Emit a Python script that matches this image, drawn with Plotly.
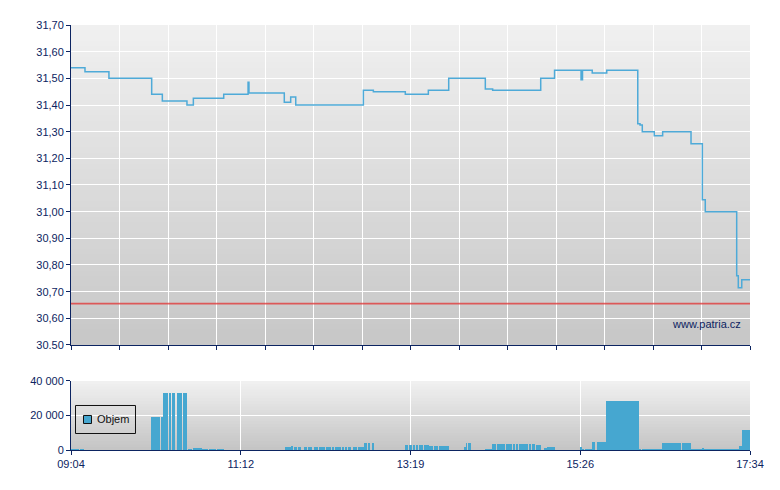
import plotly.graph_objects as go
from datetime import datetime

DAY = "2010-01-04"

# ---- price (step line) ----
price_times = ["09:04:00", "09:14:30", "09:32:30", "10:04:36", "10:12:36", "10:31:06",
               "10:35:54", "10:58:42", "11:17:00", "11:17:40", "11:44:12", "11:49:00",
               "11:52:48", "12:43:36", "12:51:06", "13:15:06", "13:32:24", "13:47:42",
               "14:15:12", "14:20:42", "14:56:48", "15:07:12", "15:27:06", "15:28:12",
               "15:35:30", "15:46:24", "16:09:42", "16:11:24", "16:13:06", "16:22:06",
               "16:28:24", "16:49:42", "16:58:12", "17:00:24", "17:24:00", "17:25:12",
               "17:27:48", "17:34:00"]
price_values = [31.54, 31.525, 31.50, 31.44, 31.415, 31.40,
                31.425, 31.44, 31.485, 31.445, 31.41, 31.43,
                31.40, 31.455, 31.45, 31.44, 31.455, 31.50,
                31.46, 31.455, 31.50, 31.53, 31.495, 31.53,
                31.52, 31.53, 31.33, 31.325, 31.30, 31.285,
                31.30, 31.255, 31.045, 31.00, 30.76, 30.715,
                30.745, 30.745]
reference_price = 30.655

# ---- volume ----
vol_start = ["09:04:00", "09:11:00", "10:04:06", "10:11:36", "10:13:18", "10:17:48", "10:19:36",
             "10:23:36", "10:28:06", "10:32:00", "10:35:36", "10:42:36", "10:48:00", "10:54:00",
             "11:44:42", "11:49:48", "11:51:42", "11:54:30", "11:58:48", "12:02:00", "12:06:18",
             "12:10:00", "12:15:30", "12:19:48", "12:22:00", "12:24:18", "12:25:48", "12:27:30",
             "12:29:36", "12:32:00", "12:36:18", "12:37:48", "12:39:36", "12:44:00", "12:47:00",
             "12:49:54", "13:14:36", "13:18:06", "13:19:06", "13:20:54", "13:22:54", "13:25:24",
             "13:29:06", "13:32:42", "13:36:36", "13:40:12", "13:59:12", "14:00:42", "14:02:12",
             "14:03:30", "14:15:00", "14:20:12", "14:24:00", "14:25:30", "14:30:42", "14:36:30",
             "14:38:00", "14:40:18", "14:46:18", "14:48:12", "14:50:00", "14:53:18", "15:00:00",
             "15:01:30", "15:26:48", "15:27:48", "15:30:06", "15:35:18", "15:39:06", "15:45:48",
             "16:10:36", "16:12:48", "16:27:48", "16:42:48", "16:49:30", "16:58:30", "16:59:18",
             "17:24:06", "17:25:36", "17:27:48"]
vol_end = ["09:10:00", "09:14:00", "10:10:48", "10:12:54", "10:17:06", "10:18:54", "10:21:54",
           "10:27:36", "10:31:06", "10:35:00", "10:42:12", "10:47:00", "10:53:00", "10:58:42",
           "11:49:18", "11:50:30", "11:53:42", "11:56:48", "12:01:18", "12:05:00", "12:09:18",
           "12:14:48", "12:19:18", "12:21:30", "12:23:36", "12:25:18", "12:27:00", "12:29:00",
           "12:31:30", "12:34:00", "12:37:18", "12:38:48", "12:44:00", "12:46:18", "12:48:48",
           "12:51:36", "13:17:06", "13:18:48", "13:20:06", "13:22:24", "13:24:24", "13:28:24",
           "13:32:42", "13:35:54", "13:39:36", "13:47:54", "14:00:42", "14:01:24", "14:02:54",
           "14:04:12", "14:20:00", "14:23:12", "14:25:00", "14:30:00", "14:35:12", "14:37:18",
           "14:39:30", "14:45:30", "14:47:30", "14:49:18", "14:52:30", "14:57:00", "15:01:18",
           "15:07:30", "15:27:48", "15:29:18", "15:35:06", "15:37:36", "15:45:48", "16:10:36",
           "16:12:06", "16:27:48", "16:42:06", "16:49:30", "16:58:30", "16:59:18", "17:24:06",
           "17:25:36", "17:27:48", "17:33:48"]
vol_values = [600, 600, 19000, 19000, 33000, 33000, 33000,
              33000, 33000, 300, 1400, 500, 500, 500,
              1700, 2500, 1700, 1700, 1700, 1700, 1700,
              1700, 1700, 1700, 1700, 1700, 1700, 1700,
              1700, 1700, 1700, 1700, 1700, 4000, 4000,
              4000, 2900, 2900, 2900, 2900, 2900, 2900,
              2900, 2300, 2300, 2300, 1700, 4000, 4000,
              4000, 500, 3400, 3400, 3400, 3400, 3400,
              3400, 3400, 3400, 3400, 3400, 3100, 1300,
              1900, 1900, 700, 700, 4800, 4800, 28500,
              700, 700, 4300, 4300, 200, 1200, 700,
              200, 2500, 11700]
volume_name = "Objem"

session = ["09:04:00", "17:34:00"]
price_ticks = [30.5, 30.6, 30.7, 30.8, 30.9, 31.0, 31.1, 31.2, 31.3, 31.4, 31.5, 31.6, 31.7]
price_tick_labels = ["30.50", "30,60", "30,70", "30,80", "30,90", "31,00", "31,10",
                     "31,20", "31,30", "31,40", "31,50", "31,60", "31,70"]
vol_ticks = [0, 20000, 40000]
vol_tick_labels = ["0", "20 000", "40 000"]
time_tick_labels = ["09:04", "11:12", "13:19", "15:26", "17:34"]


def dt(s):
    return datetime.strptime(DAY + " " + s, "%Y-%m-%d %H:%M:%S")


NAVY = "#0c2461"
BAR = "#46a7d0"
FONT = "Liberation Sans, Arial, sans-serif"
t0, t1 = dt(session[0]), dt(session[1])
span = t1 - t0
main_ticks = [t0 + span * k / 14 for k in range(15)]
low_ticks = [t0 + span * k / 4 for k in range(5)]

fig = go.Figure()

# price
fig.add_trace(go.Scatter(x=[dt(t) for t in price_times], y=price_values, mode="lines",
                         line=dict(color="#4eaad8", width=1.5, shape="hv"),
                         showlegend=False, xaxis="x", yaxis="y"))
fig.add_trace(go.Scatter(x=[t0, t1], y=[reference_price, reference_price], mode="lines",
                         line=dict(color="#e03c3c", width=1.6), opacity=0.8, showlegend=False,
                         xaxis="x", yaxis="y"))

# volume
starts = [dt(s) for s in vol_start]
widths = [(dt(e) - dt(s)).total_seconds() * 1000 for s, e in zip(vol_start, vol_end)]
fig.add_trace(go.Bar(x=starts, y=vol_values, width=widths, offset=0, name=volume_name,
                     marker=dict(color=BAR, line=dict(width=0)),
                     showlegend=False, xaxis="x2", yaxis="y2"))

# gradient backgrounds
shapes = []


def gradient(xref, yref, top, bottom, n=60):
    for i in range(n):
        f = i / (n - 1)
        c = [round(bottom[j] + (top[j] - bottom[j]) * f) for j in range(3)]
        shapes.append(dict(type="rect", xref=xref, yref=yref, x0=0, x1=1,
                           y0=i / n, y1=min(1, (i + 1.6) / n), layer="below",
                           line=dict(width=0), fillcolor="rgb(%d,%d,%d)" % tuple(c)))


gradient("x domain", "y domain", (240, 240, 240), (199, 199, 199))
gradient("x2 domain", "y2 domain", (240, 240, 240), (197, 197, 197), n=24)

# legend box (drawn manually to match the compact original legend)
shapes.append(dict(type="rect", xref="paper", yref="paper", x0=0.00663, x1=0.09499,
                   y0=0.03882, y1=0.10471, line=dict(color="#111111", width=1),
                   fillcolor="rgba(0,0,0,0)", layer="above"))
shapes.append(dict(type="rect", xref="paper", yref="paper", x0=0.01841, x1=0.03019,
                   y0=0.06235, y1=0.08118, line=dict(color="#111111", width=1),
                   fillcolor=BAR, layer="above"))

axis_common = dict(showline=True, linecolor=NAVY, linewidth=1, ticks="outside",
                   ticklen=4, tickcolor=NAVY, gridcolor="#ffffff", gridwidth=1,
                   zeroline=False, tickfont=dict(family=FONT, size=11, color=NAVY))

fig.update_layout(
    width=780, height=490,
    margin=dict(l=71, r=30, t=25, b=40),
    paper_bgcolor="white", plot_bgcolor="rgba(0,0,0,0)",
    font=dict(family=FONT, size=11, color=NAVY),
    shapes=shapes,
    showlegend=False,
    hovermode=False,
    xaxis=dict(axis_common, range=[t0, t1], anchor="y", tickmode="array",
               tickvals=main_ticks, showticklabels=False, showgrid=True),
    yaxis=dict(axis_common, domain=[0.2471, 1], range=[30.5, 31.7], tickmode="array",
               tickvals=price_ticks, ticktext=price_tick_labels, anchor="x"),
    xaxis2=dict(axis_common, range=[t0, t1], anchor="y2", tickmode="array",
                tickvals=low_ticks, ticktext=time_tick_labels, showgrid=True),
    yaxis2=dict(axis_common, domain=[0, 0.1624], range=[0, 40000], tickmode="array",
                tickvals=vol_ticks, ticktext=vol_tick_labels, anchor="x2"),
    annotations=[
        dict(text="www.patria.cz", xref="paper", yref="paper",
             x=0.9897, y=0.2965, xanchor="right", yanchor="middle",
             showarrow=False, font=dict(family=FONT, size=11, color=NAVY)),
        dict(text=volume_name, xref="paper", yref="paper",
             x=0.0353, y=0.0729, xanchor="left", yanchor="middle",
             showarrow=False, font=dict(family=FONT, size=11, color="#111111")),
    ],
    bargap=0,
)

fig.write_html("out.html", config={"displayModeBar": False},
               post_script="document.body.style.margin='0';")
